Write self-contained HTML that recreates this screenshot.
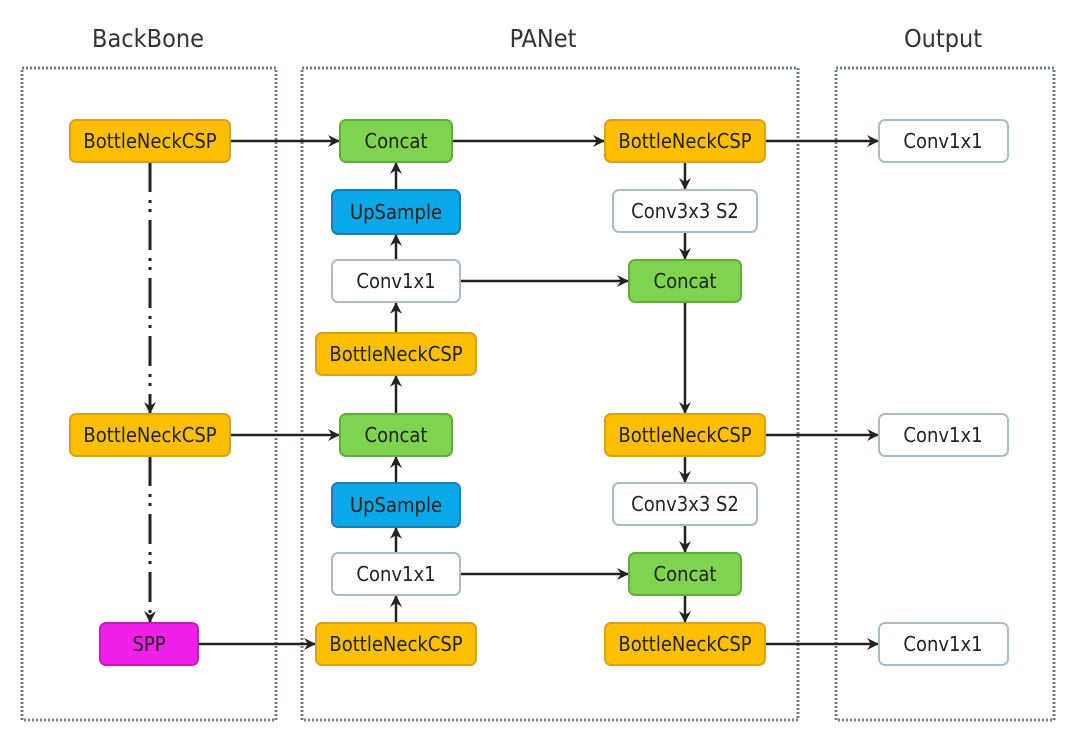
<!DOCTYPE html>
<html><head><meta charset="utf-8"><style>
html,body{margin:0;padding:0;background:#fff;}
svg{display:block;}
text{font-family:"DejaVu Sans Condensed","Liberation Sans",sans-serif;}
</style></head><body>
<svg width="1080" height="745" viewBox="0 0 1080 745" xmlns="http://www.w3.org/2000/svg">
<defs>
<marker id="a" markerWidth="12" markerHeight="12" refX="11" refY="6" orient="auto" markerUnits="userSpaceOnUse">
<path d="M0,0 L12,6 L0,12 L4,6 Z" fill="#222"/></marker>
</defs>
<g fill="none" stroke="#6b7f90" stroke-width="3" stroke-dasharray="2,2">
<rect x="22" y="68" width="254" height="652"/>
<rect x="302" y="68" width="496" height="652"/>
<rect x="836" y="68" width="218" height="652"/>
</g>
<g font-size="25" fill="#333" text-anchor="middle">
<text x="148" y="47">BackBone</text>
<text x="543" y="47">PANet</text>
<text x="943" y="47">Output</text>
</g>
<g stroke="#222" stroke-width="2.5" fill="none" marker-end="url(#a)">
<line x1="230" y1="141" x2="339" y2="141"/>
<line x1="452" y1="141" x2="604" y2="141"/>
<line x1="765" y1="141" x2="878" y2="141"/>
<line x1="230" y1="435" x2="339" y2="435"/>
<line x1="765" y1="435" x2="878" y2="435"/>
<line x1="198" y1="644" x2="315" y2="644"/>
<line x1="765" y1="644" x2="878" y2="644"/>
<line x1="460" y1="281" x2="628" y2="281"/>
<line x1="460" y1="574" x2="628" y2="574"/>
<line x1="396" y1="190" x2="396" y2="163"/>
<line x1="396" y1="260" x2="396" y2="235"/>
<line x1="396" y1="333" x2="396" y2="303"/>
<line x1="396" y1="414" x2="396" y2="376"/>
<line x1="396" y1="483" x2="396" y2="457"/>
<line x1="396" y1="553" x2="396" y2="528"/>
<line x1="396" y1="623" x2="396" y2="596"/>
<line x1="685" y1="162" x2="685" y2="189"/>
<line x1="685" y1="232" x2="685" y2="259"/>
<line x1="685" y1="302" x2="685" y2="413"/>
<line x1="685" y1="456" x2="685" y2="482"/>
<line x1="685" y1="525" x2="685" y2="552"/>
<line x1="685" y1="595" x2="685" y2="622"/>
<line x1="150" y1="162" x2="150" y2="413" stroke-width="3" stroke-dasharray="30,8,3,6,3,8"/>
<line x1="150" y1="456" x2="150" y2="622" stroke-width="3" stroke-dasharray="30,8,3,6,3,8"/>
</g>
<g stroke-width="2" font-size="20" text-anchor="middle">
<g fill="#fdbf00" stroke="#d9a21a">
<rect x="70" y="120" width="160" height="42" rx="6"/>
<rect x="70" y="414" width="160" height="42" rx="6"/>
<rect x="316" y="333" width="160" height="42" rx="6"/>
<rect x="316" y="623" width="160" height="42" rx="6"/>
<rect x="605" y="120" width="160" height="42" rx="6"/>
<rect x="605" y="414" width="160" height="42" rx="6"/>
<rect x="605" y="623" width="160" height="42" rx="6"/>
</g>
<rect x="100" y="623" width="98" height="42" rx="6" fill="#f020e8" stroke="#c818c0"/>
<g fill="#7fd34e" stroke="#5fae3a">
<rect x="340" y="120" width="112" height="42" rx="6"/>
<rect x="340" y="414" width="112" height="42" rx="6"/>
<rect x="629" y="260" width="112" height="42" rx="6"/>
<rect x="629" y="553" width="112" height="42" rx="6"/>
</g>
<g fill="#0aa8e8" stroke="#1a7fb8">
<rect x="332" y="190" width="128" height="44" rx="6"/>
<rect x="332" y="483" width="128" height="44" rx="6"/>
</g>
<g fill="#fff" stroke="#a9bccb">
<rect x="332" y="260" width="128" height="42" rx="6"/>
<rect x="332" y="553" width="128" height="42" rx="6"/>
<rect x="613" y="190" width="144" height="42" rx="6"/>
<rect x="613" y="483" width="144" height="42" rx="6"/>
<rect x="879" y="120" width="129" height="42" rx="6"/>
<rect x="879" y="414" width="129" height="42" rx="6"/>
<rect x="879" y="623" width="129" height="42" rx="6"/>
</g>
<g fill="#222" stroke="none">
<text x="150" y="148">BottleNeckCSP</text>
<text x="150" y="442">BottleNeckCSP</text>
<text x="149" y="651">SPP</text>
<text x="396" y="148">Concat</text>
<text x="396" y="219">UpSample</text>
<text x="396" y="288">Conv1x1</text>
<text x="396" y="361">BottleNeckCSP</text>
<text x="396" y="442">Concat</text>
<text x="396" y="512">UpSample</text>
<text x="396" y="581">Conv1x1</text>
<text x="396" y="651">BottleNeckCSP</text>
<text x="685" y="148">BottleNeckCSP</text>
<text x="685" y="218">Conv3x3 S2</text>
<text x="685" y="288">Concat</text>
<text x="685" y="442">BottleNeckCSP</text>
<text x="685" y="511">Conv3x3 S2</text>
<text x="685" y="581">Concat</text>
<text x="685" y="651">BottleNeckCSP</text>
<text x="943" y="148">Conv1x1</text>
<text x="943" y="442">Conv1x1</text>
<text x="943" y="651">Conv1x1</text>
</g>
</g>
</svg>
</body></html>
